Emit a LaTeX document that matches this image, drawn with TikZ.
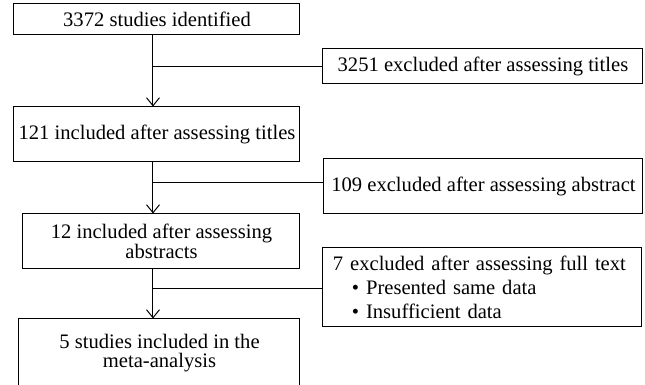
\documentclass[tikz,border=0pt]{standalone}
\usepackage{fontspec}
\setmainfont{Liberation Serif}
\usetikzlibrary{arrows.meta}
\begin{document}
\begin{tikzpicture}[x=0.5pt,y=-0.5pt,font=\fontsize{10.3}{9.9}\selectfont,>={Straight Barb[length=4pt,width=6.5pt]},
    box/.style={draw,line width=0.5pt,inner sep=0pt,align=center},
    link/.style={line width=0.5pt}]
    \useasboundingbox (0,0) rectangle (645,385);
    \clip (0,0) rectangle (645,385);
    % main column
    \node[box,minimum width=143pt,minimum height=15.5pt] (s0) at (157,19.5) {3372 studies identified};
    \node[box,minimum width=143pt,minimum height=27.5pt] (s1) at (157,134.5) {121 included after assessing titles};
    \node[box,minimum width=138.5pt,minimum height=27.5pt] (s2) at (161.5,241.5) {12 included after assessing\\abstracts};
    \node[box,minimum width=140.5pt,minimum height=34pt] (s3) at (159.5,353) {5 studies included in the\\meta-analysis};
    % exclusions
    \node[box,minimum width=160pt,minimum height=17.5pt] (e1) at (483,66.5) {3251 excluded after assessing titles};
    \node[box,minimum width=159.5pt,minimum height=27.5pt] (e2) at (483.5,186.5) {109 excluded after assessing abstract};
    \node[box,minimum width=159.5pt,minimum height=39.5pt,text width=149.5pt,inner xsep=5pt,align=left,font=\fontsize{10.3}{12}\selectfont] (e3) at (482.5,287.5)
        {7 excluded after assessing full text\\\hspace*{9.5pt}\textbullet\ Presented same data\\\hspace*{9.5pt}\textbullet\ Insufficient data};
    \coordinate (spine) at (153,0);
    \coordinate (b1) at (153,67);
    \coordinate (b2) at (153,182.5);
    \coordinate (b3) at (153,289);
    \draw[link,->] (s0.south -| spine) -- (s1.north -| spine);
    \draw[link,->] (s1.south -| spine) -- (s2.north -| spine);
    \draw[link,->] (s2.south -| spine) -- (s3.north -| spine);
    \draw[link] (b1) -- (b1 -| e1.west);
    \draw[link] (b2) -- (b2 -| e2.west);
    \draw[link] (b3) -- (b3 -| e3.west);
\end{tikzpicture}
\end{document}
